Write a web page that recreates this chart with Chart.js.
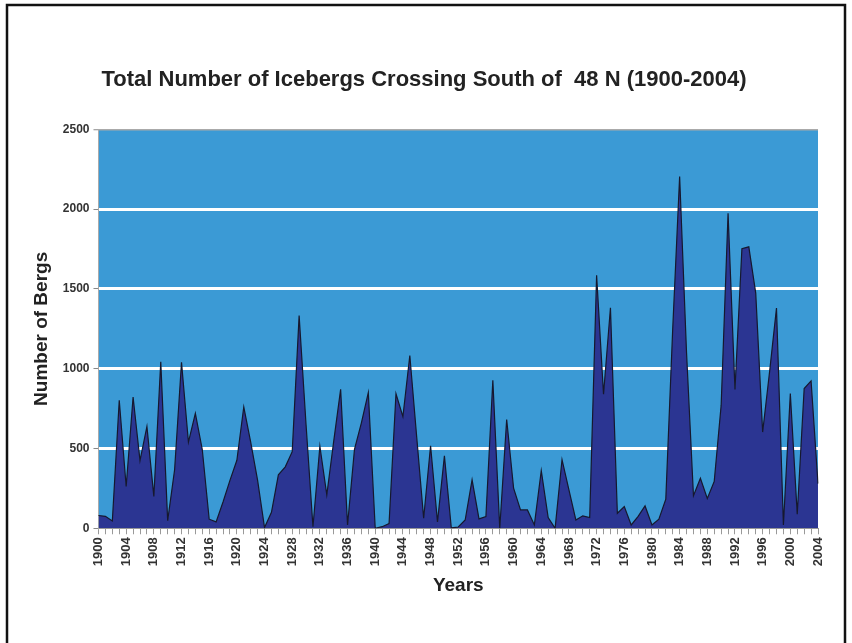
<!DOCTYPE html>
<html>
<head>
<meta charset="utf-8">
<title>Icebergs South of 48 N</title>
<script src="https://cdn.jsdelivr.net/npm/chart.js@4"></script>
<style>
  html, body { margin: 0; padding: 0; background: #fff; }
  #wrap { width: 852px; height: 643px; }
</style>
</head>
<body>
<div id="wrap"><canvas id="bergsChart" width="852" height="643"></canvas></div>
<script>
// years 1900..2004
const years = []
for (let y = 1900; y <= 2004; y++) years.push(String(y))

// counts, one per year
const bergs = [
  80, 75, 46, 802, 262, 823, 424, 638, 200, 1044,      // 1900-1909
  48, 367, 1040, 540, 720, 494, 57, 40, 165, 300,      // 1910-1919
  426, 760, 540, 300, 5, 100, 335, 385, 480, 1333,     // 1920-1929
  650, 10, 514, 210, 546, 871, 21, 494, 661, 850,      // 1930-1939
  0, 10, 30, 843, 700, 1083, 570, 63, 517, 40,         // 1940-1949
  454, 2, 8, 52, 304, 59, 73, 928, 0, 682,             // 1950-1959
  252, 115, 115, 21, 361, 67, 0, 430, 241, 52,         // 1960-1969
  78, 67, 1585, 840, 1382, 94, 136, 21, 75, 140,       // 1970-1979
  21, 57, 183, 1250, 2205, 1100, 204, 313, 187, 294,   // 1980-1989
  770, 1974, 870, 1752, 1764, 1474, 603, 980, 1380, 21, // 1990-1999
  844, 88, 876, 924, 280                               // 2000-2004
]

const titleText = 'Total Number of Icebergs Crossing South of  48 N (1900-2004)'
const xTitle = 'Years'
const yTitle = 'Number of Bergs'

const plotBlue = '#3b9ad5'
const bergNavy = '#2b3592'

// blue plot background + outer black frame
const decor = {
  id: 'decor',
  beforeDraw(chart) {
    const { ctx, chartArea: a } = chart
    ctx.save()
    ctx.fillStyle = '#fff'
    ctx.fillRect(0, 0, chart.width, chart.height)
    ctx.fillStyle = plotBlue
    ctx.fillRect(a.left, a.top, a.right - a.left, a.bottom - a.top)
    ctx.strokeStyle = '#111'
    ctx.lineWidth = 2.5
    ctx.beginPath()
    ctx.moveTo(7, chart.height + 5)
    ctx.lineTo(7, 5)
    ctx.lineTo(845, 5)
    ctx.lineTo(845, chart.height + 5)
    ctx.stroke()
    ctx.restore()
  }
}

function setChart(id) {
  const c = document.getElementById(id).getContext('2d')
  return new Chart(c, {
    type: 'line',
    data: {
      labels: years,
      datasets: [{
        label: yTitle,
        data: bergs,
        fill: 'origin',
        backgroundColor: bergNavy,
        borderColor: '#16182e',
        borderWidth: 1.2,
        pointRadius: 0,
        tension: 0
      }]
    },
    options: {
      responsive: false,
      animation: false,
      layout: { padding: { left: 30, right: 34, top: 0, bottom: 46 } },
      plugins: {
        legend: { display: false },
        tooltip: { enabled: false },
        title: {
          display: true,
          text: titleText,
          color: '#222',
          font: { family: 'Liberation Sans, Arial, sans-serif', size: 22, weight: 'bold' },
          padding: { top: 67, bottom: 36 }
        }
      },
      scales: {
        x: {
          offset: false,
          grid: {
            drawOnChartArea: false,
            drawTicks: true,
            tickLength: 6,
            color: '#999'
          },
          border: { color: '#999' },
          ticks: {
            autoSkip: false,
            maxRotation: 90,
            minRotation: 90,
            padding: 3,
            color: '#333',
            font: { family: 'Liberation Sans, Arial, sans-serif', size: 13, weight: 'bold' },
            callback: (v, i) => (i % 4 === 0 ? years[i] : '')
          },
          title: {
            display: true,
            text: xTitle,
            color: '#222',
            font: { family: 'Liberation Sans, Arial, sans-serif', size: 19, weight: 'bold' },
            padding: { top: 5, bottom: 0 }
          }
        },
        y: {
          min: 0,
          max: 2500,
          grid: {
            color: ctx => ctx.tick.value === 2500 ? '#aaa' : (ctx.tick.value === 0 ? 'rgba(0,0,0,0)' : '#fff'),
            lineWidth: ctx => ctx.tick.value === 2500 ? 1.5 : 3,
            tickColor: '#888',
            tickWidth: 1,
            tickLength: 5
          },
          border: { color: '#aaa' },
          ticks: {
            stepSize: 500,
            padding: 4,
            color: '#333',
            font: { family: 'Liberation Sans, Arial, sans-serif', size: 12, weight: 'bold' },
            callback: v => String(v)
          },
          title: {
            display: true,
            text: yTitle,
            color: '#222',
            font: { family: 'Liberation Sans, Arial, sans-serif', size: 19, weight: 'bold' },
            padding: { top: 0, bottom: 6 }
          }
        }
      }
    },
    plugins: [decor]
  })
}

const bergsChart = setChart('bergsChart')
</script>
</body>
</html>
